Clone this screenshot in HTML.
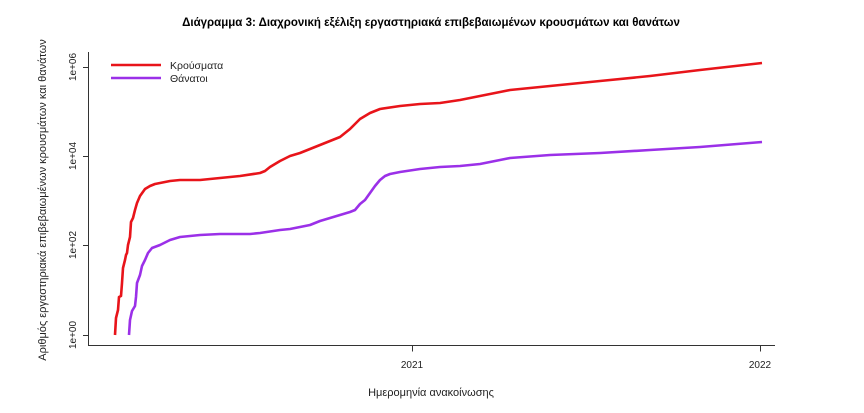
<!DOCTYPE html>
<html><head><meta charset="utf-8"><style>
body{margin:0;background:#fff;}
svg{display:block;font-family:"Liberation Sans","DejaVu Sans",sans-serif;}
</style></head><body>
<svg width="864" height="413" viewBox="0 0 864 413">
<rect width="864" height="413" fill="#fff"/>
<text x="431" y="26" text-anchor="middle" font-size="11.5" font-weight="bold">Διάγραμμα 3: Διαχρονική εξέλιξη εργαστηριακά επιβεβαιωμένων κρουσμάτων και θανάτων</text>
<g stroke="#333" stroke-width="1" fill="none">
<path d="M88.5 52V345.5H775"/>
<path d="M83 67.5H88.5M83 156.5H88.5M83 245.5H88.5M83 335.5H88.5"/>
<path d="M412.5 345.5v6M760.5 345.5v6"/>
</g>
<g font-size="10" fill="#222" text-anchor="middle">
<text transform="translate(76,67) rotate(-90)">1e+06</text>
<text transform="translate(76,156) rotate(-90)">1e+04</text>
<text transform="translate(76,245) rotate(-90)">1e+02</text>
<text transform="translate(76,335) rotate(-90)">1e+00</text>
<text x="412" y="368">2021</text>
<text x="760" y="368">2022</text>
<text x="431" y="396" font-size="11">Ημερομηνία ανακοίνωσης</text>
<text transform="translate(46,200) rotate(-90)" font-size="11">Αριθμός εργαστηριακά επιβεβαιωμένων κρουσμάτων και θανάτων</text>
</g>
<polyline fill="none" stroke="#e8141a" stroke-width="2.6" stroke-linejoin="round" points="115,335 116,318 118,310 119,297 121,296 122,283 123,268 125,260 126,255 127,253 128,245 130,237 131,222 133,218 135,210 137,203 140,196 145,189 150,186 155,184 165,182 170,181 180,180 200,180 220,178 240,176 260,173 265,171 270,167 280,161 290,156 300,153 310,149 320,145 330,141 340,137 345,133 350,129 355,124 360,119 370,113 380,109 400,106 420,104 440,103 460,100 480,96 500,92 510,90 550,86 600,81 650,76 700,70 762,63"/>
<polyline fill="none" stroke="#9b30e8" stroke-width="2.6" stroke-linejoin="round" points="129,335 130,320 132,311 135,306 136,297 137,283 140,275 142,266 145,260 148,253 152,248 160,245 170,240 180,237 200,235 220,234 250,234 260,233 280,230 290,229 300,227 310,225 320,221 330,218 340,215 350,212 355,210 360,204 365,200 370,193 375,186 380,180 385,176 390,174 400,172 420,169 440,167 460,166 480,164 500,160 510,158 550,155 600,153 650,150 700,147 762,142"/>
<line x1="111" y1="65" x2="161" y2="65" stroke="#e8141a" stroke-width="2.6"/>
<line x1="111" y1="78" x2="161" y2="78" stroke="#9b30e8" stroke-width="2.6"/>
<text x="170" y="69" font-size="10.5" fill="#222">Κρούσματα</text>
<text x="170" y="82" font-size="10.5" fill="#222">Θάνατοι</text>
</svg>
</body></html>
